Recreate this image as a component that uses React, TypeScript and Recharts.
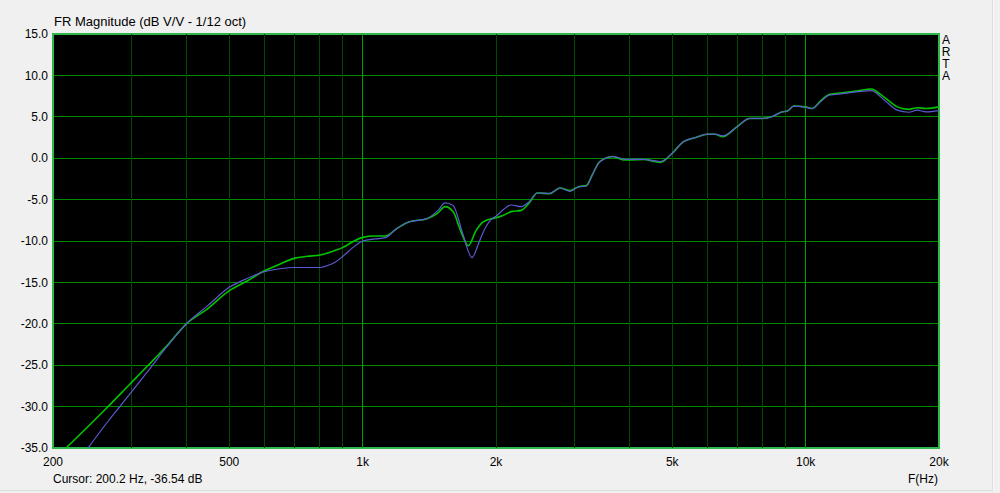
import { LineChart, Line, XAxis, YAxis, CartesianGrid, ReferenceLine, ReferenceArea } from "recharts";

const greenFreq = [
  214, 240, 264, 298, 331, 365, 400, 445, 500, 550, 600, 650, 700, 750, 800, 870, 900, 950, 1000, 1066, 1125,
  1194, 1270, 1397, 1480, 1535, 1600, 1665, 1732, 1800, 1872, 1960, 2000, 2080, 2164, 2280, 2376, 2480, 2640,
  2790, 2940, 3070, 3200, 3300, 3430, 3680, 3880, 4000, 4300, 4700, 5000, 5300, 5650, 6000, 6240, 6500, 7000,
  7480, 8000, 8380, 8860, 9100, 9400, 10000, 10340, 10800, 11300, 12100, 13150, 14050, 15000, 16100, 17100,
  17850, 18700, 20000,
];
const greenDb = [
  -35, -32.4, -30.2, -27.3, -24.8, -22.4, -20, -18.25, -16, -14.8, -13.6, -12.8, -12.1, -11.85, -11.7, -11.1,
  -10.8, -10.1, -9.56, -9.4, -9.4, -8.5, -7.7, -7.3, -6.6, -5.85, -6.45, -8.8, -10.57, -8.8, -7.7, -7.3, -7.2,
  -6.9, -6.45, -6.3, -5.4, -4.2, -4.3, -3.6, -3.9, -3.45, -3.3, -2.0, -0.42, 0.2, -0.2, -0.2, -0.15, -0.5, 0.6,
  2.0, 2.5, 2.9, 2.9, 2.6, 3.8, 4.8, 4.8, 5.0, 5.6, 5.7, 6.3, 6.2, 6.0, 6.9, 7.7, 7.9, 8.15, 8.36, 7.4, 6.2,
  5.9, 6.1, 6.0, 6.2,
];

const blueFreq = [
  240, 266, 281, 298, 331, 361, 400, 445, 500, 550, 600, 650, 700, 800, 840, 870, 900, 950, 1000, 1066, 1125,
  1194, 1270, 1397, 1480, 1535, 1600, 1680, 1765, 1830, 1872, 1960, 2000, 2080, 2164, 2280, 2376, 2480, 2640,
  2790, 2940, 3070, 3200, 3300, 3430, 3680, 3880, 4000, 4300, 4700, 5000, 5300, 5650, 6000, 6240, 6500, 7000,
  7480, 8000, 8380, 8860, 9100, 9400, 10000, 10340, 10800, 11300, 12100, 13150, 14050, 15000, 16100, 17100,
  17850, 18700, 20000,
];
const blueDb = [
  -35, -31.8, -30.2, -28.5, -25.4, -22.8, -20, -17.9, -15.6, -14.5, -13.7, -13.35, -13.2, -13.2, -12.9, -12.5,
  -11.9, -10.8, -10, -9.75, -9.6, -8.5, -7.7, -7.3, -6.3, -5.4, -5.7, -9.0, -12.0, -10.2, -8.9, -7.3, -7.0,
  -6.2, -5.65, -5.85, -5.25, -4.2, -4.25, -3.6, -4.0, -3.45, -3.36, -2.0, -0.42, 0.2, -0.1, -0.13, -0.13, -0.4,
  0.6, 2.0, 2.5, 2.9, 2.9, 2.7, 3.8, 4.8, 4.8, 5.0, 5.6, 5.7, 6.3, 6.15, 6.0, 6.8, 7.6, 7.8, 8.03, 8.15, 7.1,
  5.8, 5.55, 5.8, 5.6, 5.75,
];

const xTicks = [200, 500, 1000, 2000, 5000, 10000, 20000];
const yTicks = [-35, -30, -25, -20, -15, -10, -5, 0, 5, 10, 15];
const minorFreqs = [300, 400, 500, 600, 700, 800, 900, 2000, 3000, 4000, 5000, 6000, 7000, 8000, 9000];
const majorFreqs = [1000, 10000];

const greenData = greenFreq.map((f, i) => ({ f, db: greenDb[i] }));
const blueData = blueFreq.map((f, i) => ({ f, db: blueDb[i] }));

const font = "'Liberation Sans', Arial, sans-serif";

const fmtFreq = (v: number) => (v >= 1000 ? `${v / 1000}k` : `${v}`);

export default function App() {
  return (
    <div
      style={{
        position: "absolute",
        left: 0,
        top: 0,
        width: 1000,
        height: 493,
        background: "#f0f0f0",
        fontFamily: font,
        overflow: "hidden",
      }}
    >
      <div style={{ position: "absolute", left: 54, top: 14, fontSize: 13, color: "#000" }}>
        FR Magnitude (dB V/V - 1/12 oct)
      </div>
      <div
        style={{
          position: "absolute",
          left: 941,
          top: 34,
          width: 10,
          fontSize: 12,
          lineHeight: "12px",
          textAlign: "center",
          color: "#000",
        }}
      >
        A<br />R<br />T<br />A
      </div>
      <div style={{ position: "absolute", left: 53, top: 472, fontSize: 12, color: "#000" }}>
        Cursor: 200.2 Hz, -36.54 dB
      </div>
      <div style={{ position: "absolute", left: 908, top: 472, fontSize: 12, color: "#000" }}>F(Hz)</div>
      <div
        style={{
          position: "absolute",
          left: 992,
          top: 0,
          width: 1,
          height: 490,
          background: "#fafafa",
          borderLeft: "1px solid #dcdcdc",
        }}
      />
      <div style={{ position: "absolute", left: 0, top: 490, width: 993, height: 1, background: "#dcdcdc" }} />
      <LineChart
        width={1000}
        height={493}
        margin={{ top: 34, right: 61, bottom: 0, left: 0 }}
        style={{ position: "absolute", left: 0, top: 0 }}
      >
        <CartesianGrid
          vertical={false}
          stroke="#008a00"
          strokeWidth={1}
          fill="#000"
          fillOpacity={1}
          shapeRendering="crispEdges"
        />
        <XAxis
          dataKey="f"
          type="number"
          scale="log"
          domain={[200, 20000]}
          allowDataOverflow
          ticks={xTicks}
          tickFormatter={fmtFreq}
          tickLine={false}
          axisLine={false}
          tickSize={7}
          tickMargin={2}
          height={45}
          tick={{ fill: "#000", fontSize: 12, fontFamily: font }}
        />
        <YAxis
          type="number"
          domain={[-35, 15]}
          allowDataOverflow
          ticks={yTicks}
          tickFormatter={(v: number) => v.toFixed(1)}
          tickLine={false}
          axisLine={false}
          tickSize={3}
          tickMargin={2}
          width={53}
          tick={{ fill: "#000", fontSize: 12, fontFamily: font }}
        />
        {minorFreqs.map((f) => (
          <ReferenceLine key={`m${f}`} x={f} stroke="#004a00" strokeWidth={1} shapeRendering="crispEdges" />
        ))}
        {majorFreqs.map((f) => (
          <ReferenceLine key={`M${f}`} x={f} stroke="#00a000" strokeWidth={1} shapeRendering="crispEdges" />
        ))}
        <ReferenceArea
          x1={200}
          x2={20000}
          y1={-35}
          y2={15}
          fill="none"
          stroke="#2cb84a"
          strokeWidth={1.5}
          shapeRendering="crispEdges"
        />
        <Line
          data={greenData}
          dataKey="db"
          type="monotone"
          stroke="#00c400"
          strokeWidth={1.6}
          dot={false}
          isAnimationActive={false}
        />
        <Line
          data={blueData}
          dataKey="db"
          type="monotone"
          stroke="#5a5ad2"
          strokeWidth={1.2}
          dot={false}
          isAnimationActive={false}
        />
      </LineChart>
    </div>
  );
}
